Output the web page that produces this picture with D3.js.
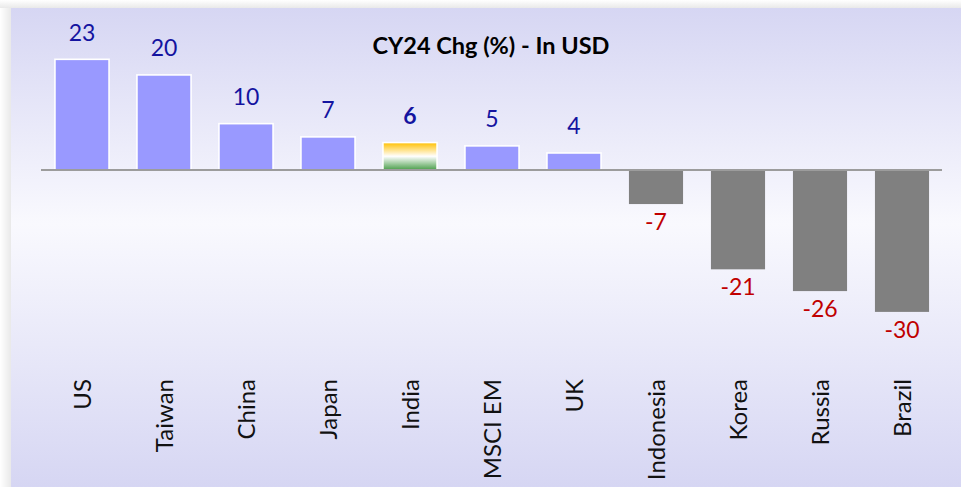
<!DOCTYPE html>
<html><head><meta charset="utf-8">
<script src="https://cdn.jsdelivr.net/npm/d3@7"></script>
<style>html,body{margin:0;padding:0;background:#fff;overflow:hidden} svg{display:block}</style>
</head><body><svg id="chart" width="961" height="487"></svg>
<script>
// ---- data ----
const categories = ["US","Taiwan","China","Japan","India","MSCI EM","UK","Indonesia","Korea","Russia","Brazil"];
const values = [23.4, 20.1, 9.8, 7.0, 5.8, 5.1, 3.6, -7.2, -21.0, -25.6, -30.0];
const title = "CY24 Chg (%) - In USD";
const highlight = "India";
const yDomain = [-40, 30];

const data = categories.map((c, i) => ({cat: c, v: values[i], label: String(Math.round(values[i]))}));

const svg = d3.select("#chart");
const W = 961, H = 487;
const defs = svg.append("defs");

// background shadow gradients
const gl = defs.append("linearGradient").attr("id","shL").attr("x1",0).attr("x2",1).attr("y1",0).attr("y2",0);
gl.append("stop").attr("offset",0).attr("stop-color","#ffffff");
gl.append("stop").attr("offset",1).attr("stop-color","#e9e9e9");
const gt = defs.append("linearGradient").attr("id","shT").attr("x1",0).attr("x2",0).attr("y1",0).attr("y2",1);
gt.append("stop").attr("offset",0).attr("stop-color","#ffffff");
gt.append("stop").attr("offset",1).attr("stop-color","#e9e9e9");

const pg = defs.append("linearGradient").attr("id","panel").attr("x1",0).attr("x2",0).attr("y1",0).attr("y2",1);
pg.append("stop").attr("offset",0).attr("stop-color","#d6d6f3");
pg.append("stop").attr("offset",0.45).attr("stop-color","#f9f9fe");
pg.append("stop").attr("offset",1).attr("stop-color","#d6d6f3");

const ig = defs.append("linearGradient").attr("id","india").attr("x1",0).attr("x2",0).attr("y1",0).attr("y2",1);
ig.append("stop").attr("offset",0).attr("stop-color","#ffc000");
ig.append("stop").attr("offset",0.5).attr("stop-color","#ffffff");
ig.append("stop").attr("offset",1).attr("stop-color","#4a9e4a");

svg.append("rect").attr("x",0).attr("y",0).attr("width",11).attr("height",H).attr("fill","url(#shL)");
svg.append("rect").attr("x",0).attr("y",0).attr("width",W).attr("height",8).attr("fill","url(#shT)");
svg.append("rect").attr("x",11).attr("y",8).attr("width",W-11).attr("height",H-8).attr("fill","url(#panel)");

// ---- scales ----
const x = d3.scaleBand().domain(categories).range([41, 943]).paddingInner(0.34).paddingOuter(0.17);
const y = d3.scaleLinear().domain(yDomain).range([359.2, 28.1]);

// bars
svg.append("g").selectAll("rect").data(data).join("rect")
  .attr("x", d => x(d.cat))
  .attr("width", x.bandwidth())
  .attr("y", d => Math.min(y(d.v), y(0)))
  .attr("height", d => Math.abs(y(d.v) - y(0)))
  .attr("fill", d => d.cat === highlight ? "url(#india)" : (d.v >= 0 ? "#9999ff" : "#808080"))
  .attr("stroke", d => d.v >= 0 ? "#ffffff" : "none")
  .attr("stroke-width", 1.6);

// zero line
svg.append("line").attr("x1",41).attr("x2",942).attr("y1",y(0)).attr("y2",y(0))
  .attr("stroke","#9c9c9c").attr("stroke-width",2);

// value labels
svg.append("g").selectAll("text").data(data).join("text")
  .attr("x", d => x(d.cat) + x.bandwidth()/2)
  .attr("y", d => d.v >= 0 ? y(d.v) - 18.5 : y(d.v) + 26)
  .attr("text-anchor","middle")
  .attr("font-family","Lato, 'Open Sans', sans-serif")
  .attr("font-size", 23)
  .attr("font-weight", d => d.cat === highlight ? "bold" : "normal")
  .attr("fill", d => d.v >= 0 ? "#1414a0" : "#c00000")
  .text(d => d.label);

// category labels
svg.append("g").selectAll("text").data(data).join("text")
  .attr("transform", d => `translate(${x(d.cat) + x.bandwidth()/2},379) rotate(-90)`)
  .attr("dy","0.36em")
  .attr("text-anchor","end")
  .attr("font-family","Lato, 'Open Sans', sans-serif")
  .attr("font-size", 24)
  .attr("fill","#111")
  .text(d => d.cat);

// title
svg.append("text").attr("x",491).attr("y",54).attr("text-anchor","middle")
  .attr("font-family","Lato, 'Open Sans', sans-serif").attr("font-weight","bold")
  .attr("font-size",23.5).attr("fill","#000").text(title);
</script>
</body></html>
